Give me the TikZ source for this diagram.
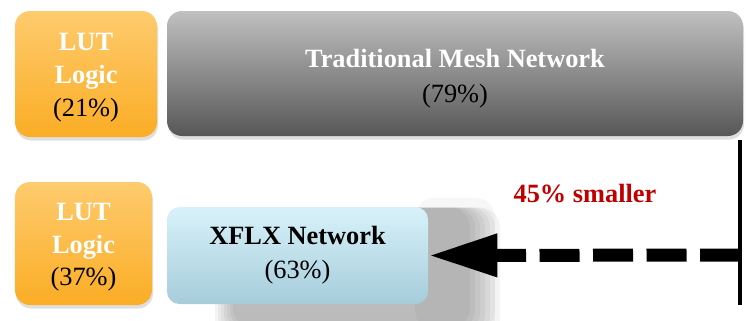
\documentclass[tikz,border=0pt]{standalone}
\usepackage{fontspec}
\setmainfont{Liberation Serif}
\usetikzlibrary{positioning, arrows.meta, shadows}
\definecolor{lutTop}{HTML}{FECB6E}
\definecolor{lutBot}{HTML}{FBAD25}
\definecolor{meshTop}{HTML}{C0C0C0}
\definecolor{meshBot}{HTML}{575757}
\definecolor{xflxTop}{HTML}{D8F2FA}
\definecolor{xflxBot}{HTML}{A6CCDB}
\definecolor{smallRed}{HTML}{C00000}

\begin{document}
\begin{tikzpicture}[
    txt/.style={font=\fontsize{15}{18.5}\selectfont\bfseries, align=center},
    lutbox/.style={txt, text=white, rounded corners=0.3cm, top color=lutTop, bottom color=lutBot,
        drop shadow={opacity=0.25, shadow xshift=0.02cm, shadow yshift=-0.07cm}}
]
    \useasboundingbox (0,0) rectangle (14.98,-6.4);
    \node[lutbox, minimum width=2.84cm, minimum height=2.52cm] (lut1) at (1.72,-1.48)
        {\rule{0pt}{14pt}LUT\\Logic\\\textcolor{black}{\mdseries(21\%)}};
    \node[txt, text=white, rounded corners=0.3cm, top color=meshTop, bottom color=meshBot,
        minimum width=11.52cm, minimum height=2.5cm,
        drop shadow={opacity=0.25, shadow xshift=0.02cm, shadow yshift=-0.07cm}] (mesh) at (9.10,-1.47)
        {\rule{0pt}{16pt}Traditional Mesh Network\\[1.5pt]\textcolor{black}{\mdseries(79\%)}};
    \node[lutbox, minimum width=2.74cm, minimum height=2.46cm] (lut2) at (1.67,-4.87)
        {\rule{0pt}{14pt}LUT\\Logic\\\textcolor{black}{\mdseries(37\%)}};
    \foreach \i in {0,...,6}{
        \fill[black, opacity=0.045, rounded corners=0.4cm]
            (4.3+0.06*\i,-4.15-0.0*\i) rectangle (10.0-0.1*\i,-6.8+0.04*\i);
    }
    \fill[black, opacity=0.03, rounded corners=0.4cm] (8.3,-3.95) rectangle (9.9,-6.6);
    \node[txt, text=black, rounded corners=0.25cm, top color=xflxTop, bottom color=xflxBot,
        minimum width=5.22cm, minimum height=1.94cm] (xflx) at (5.95,-5.11)
        {XFLX Network\\[1pt]\textcolor{black}{\mdseries(63\%)}};
    \node[txt, text=smallRed] (save) at (11.7,-3.88) {45\% smaller};
    \coordinate (lt) at (14.8,-2.8);
    \coordinate (lb) at (14.8,-6.1);
    \coordinate (ast) at (14.8,-5.1);
    \draw[line width=2.3pt] (lt) -- (lb);
    \draw[line width=7.4pt, dash pattern=on 0.8cm off 0.27cm, -{Triangle[length=1.38cm, width=0.8cm]}]
        (ast) -- (xflx.east);
\end{tikzpicture}
\end{document}
